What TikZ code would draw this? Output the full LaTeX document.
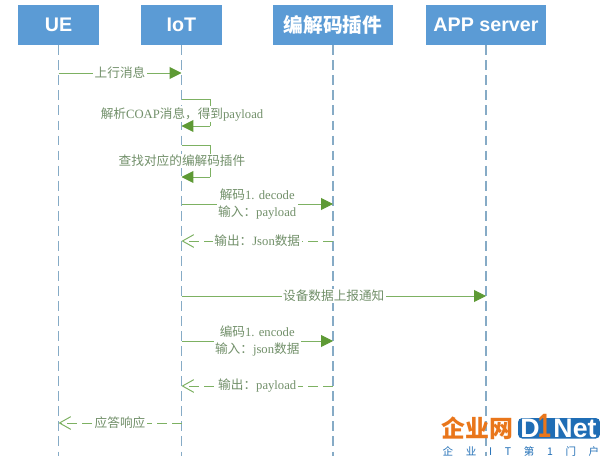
\documentclass[tikz,border=0pt]{standalone}
\usepackage{fontspec}
\setmainfont{Liberation Serif}
\newfontfamily\cjk{Noto Sans CJK SC}
\newfontfamily\headfont{Liberation Sans}
\usetikzlibrary{arrows.meta,positioning,calc}
\definecolor{boxblue}{HTML}{5B9BD5}
\definecolor{lifeblue}{HTML}{86ABC6}
\definecolor{msggreen}{HTML}{7DB162}
\definecolor{tipgreen}{HTML}{5E9A35}
\definecolor{lblgreen}{HTML}{72906A}
\definecolor{logoblue}{HTML}{1F6DB5}
\definecolor{logoorange}{HTML}{E9761B}
\tikzset{
  actor/.style={draw=none,fill=boxblue,text=white,minimum height=1cm,inner sep=0pt,font=\headfont\bfseries\fontsize{14}{14}\selectfont},
  life/.style={lifeblue,line width=1pt,dash pattern=on 7pt off 3.7pt},
  msg/.style={msggreen,line width=0.7pt,-{Triangle[length=8.5pt,width=8.5pt,color=tipgreen]}},
  loopline/.style={msggreen,line width=0.7pt},
  reply/.style={msggreen,line width=0.7pt,dash pattern=on 7pt off 3.6pt,-{Straight Barb[length=8pt,width=9pt]}},
  lbl/.style={fill=white,text=lblgreen,inner sep=1pt,align=center,font=\fontsize{9}{12.5}\selectfont},
  logotext/.style={inner sep=0pt,font=\headfont\bfseries\fontsize{19}{19}\selectfont}
}
\begin{document}
\begin{tikzpicture}[x=0.025cm,y=0.025cm]
\useasboundingbox (0,0) rectangle (600,456);
% Actors
\node[actor,minimum width=2.025cm] (ue) at (58.5,431) {UE};
\node[actor,minimum width=2.025cm] (iot) at (181.5,431) {IoT};
\node[actor,minimum width=3cm] (codec) at (333,431) {{\cjk\bfseries 编解码插件}};
\node[actor,minimum width=3cm] (app) at (486,431) {APP server};
% Lifelines
\coordinate (bottom) at (0,0);
\draw[life] (ue.south) -- (ue |- bottom);
\draw[life] (iot.south) -- (iot |- bottom);
\draw[life] (codec.south) -- (codec |- bottom);
\draw[life] (app.south) -- (app |- bottom);
% Rows
\coordinate (m1) at (0,383);
\coordinate (s1a) at (210,357);
\coordinate (s1b) at (210,330);
\coordinate (s2a) at (210,311);
\coordinate (s2b) at (210,279);
\coordinate (m2) at (0,252);
\coordinate (m3) at (0,215);
\coordinate (m4) at (0,160);
\coordinate (m5) at (0,115);
\coordinate (m6) at (0,70);
\coordinate (m7) at (0,33);
% Messages
\draw[msg] (ue |- m1) -- (iot |- m1) node[midway,lbl] (t1) {\cjk 上行消息};
\draw[loopline] (iot |- s1a) -- (s1a) -- (s1b);
\node[lbl] (t2) at (182,342) {{\cjk 解析}COAP{\cjk 消息，得到}payload};
\draw[msg] (s1b) -- (iot |- s1b);
\draw[loopline] (iot |- s2a) -- (s2a) -- (s2b);
\node[lbl] (t3) at (182,295) {\cjk 查找对应的编解码插件};
\draw[msg] (s2b) -- (iot |- s2b);
\draw[msg] (iot |- m2) -- (codec |- m2) node[midway,lbl] (t4) {{\cjk 解码}1. decode\\{\cjk 输入：}payload};
\draw[reply] (codec |- m3) -- (iot |- m3) node[midway,lbl] (t5) {{\cjk 输出：}Json{\cjk 数据}};
\draw[msg] (iot |- m4) -- (app |- m4) node[midway,lbl] (t6) {\cjk 设备数据上报通知};
\draw[msg] (iot |- m5) -- (codec |- m5) node[midway,lbl] (t7) {{\cjk 编码}1. encode\\{\cjk 输入：}json{\cjk 数据}};
\draw[reply] (codec |- m6) -- (iot |- m6) node[midway,lbl] (t8) {{\cjk 输出：}payload};
\draw[reply] (iot |- m7) -- (ue |- m7) node[midway,lbl] (t9) {\cjk 应答响应};
% Logo
\node[text=logoorange,inner sep=0pt,font=\cjk\bfseries\fontsize{17}{17}\selectfont] (logocn) at (477.5,28) {企业网};
\fill[logoblue,rounded corners=3pt] (518,17.5) rectangle (600,38);
\node[logotext,text=white] (logod) at (530,27.5) {D};
\node[text=logoorange,inner sep=0pt,xscale=0.7,font=\headfont\bfseries\fontsize{24}{24}\selectfont] (logoone) at (544.5,30.5) {1};
\node[logotext,text=white] (logonet) at (575,27.5) {Net};
\node[text=logoblue,inner sep=0pt,font=\cjk\fontsize{7.5}{7.5}\selectfont] (logosub) at (521,5) {企\hspace{1.2em}业\hspace{1.2em}I\hspace{1.2em}T\hspace{1.2em}第\hspace{1.2em}1\hspace{1.2em}门\hspace{1.2em}户};
\end{tikzpicture}
\end{document}
